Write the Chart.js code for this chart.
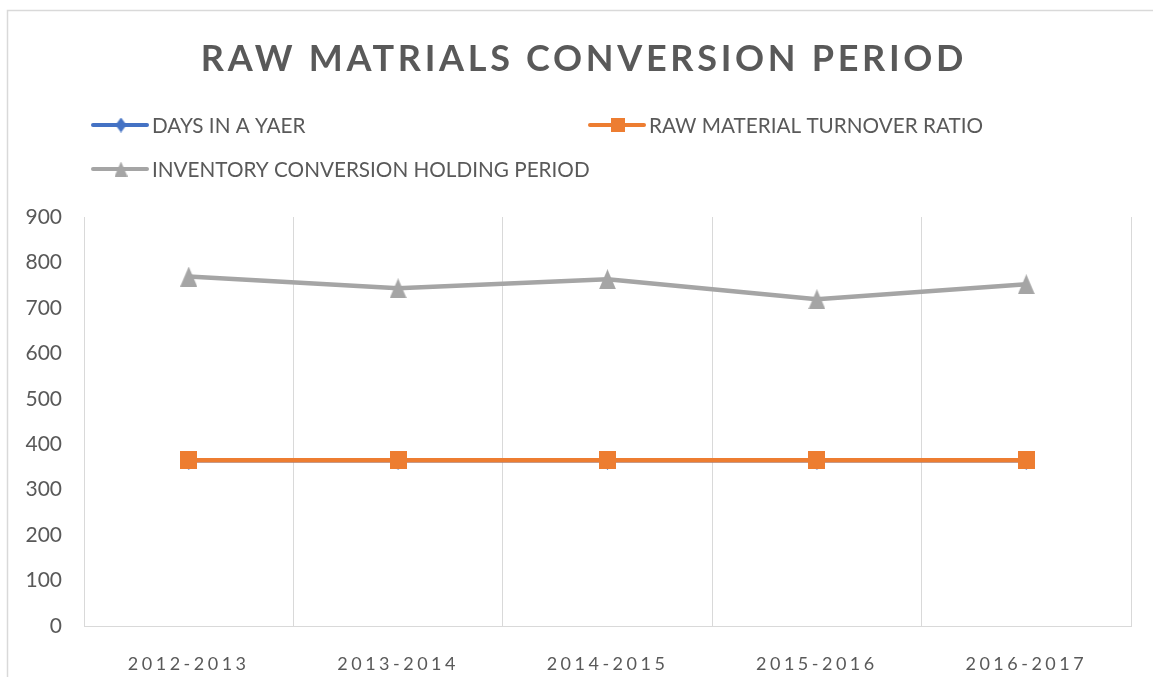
<!DOCTYPE html>
<html>
<head>
<meta charset="utf-8">
<script src="https://cdn.jsdelivr.net/npm/chart.js@4"></script>
<style>
  html, body { margin: 0; padding: 0; background: #fff; overflow: hidden; }
  #wrap { position: relative; width: 1153px; height: 677px; }
</style>
</head>
<body>
<div id="wrap"><canvas id="chartRaw"></canvas></div>
<script>
const periods = ['2012-2013', '2013-2014', '2014-2015', '2015-2016', '2016-2017'];
const daysInYear = [365, 365, 365, 365, 365];
const turnoverRatio = [365, 365, 365, 365, 365];
const holdingPeriod = [769, 743, 763, 719, 752];
const yTicks = [0, 100, 200, 300, 400, 500, 600, 700, 800, 900];

const seriesNames = ['DAYS IN A YAER', 'RAW MATERIAL TURNOVER RATIO', 'INVENTORY CONVERSION HOLDING PERIOD'];
const colors = ['#4472C4', '#ED7D31', '#A5A5A5'];
const textColor = '#595959';
const gridColor = '#D9D9D9';
const fontFamily = 'Lato, "Liberation Sans", sans-serif';

function marker(shape, w, h, color) {
  const c = document.createElement('canvas');
  c.width = w; c.height = h;
  const g = c.getContext('2d');
  g.fillStyle = color;
  g.beginPath();
  if (shape === 'rect') {
    g.rect(0, 0, w, h);
  } else if (shape === 'tri') {
    g.moveTo(w / 2, 0); g.lineTo(w, h); g.lineTo(0, h);
  } else {
    g.moveTo(w / 2, 0); g.lineTo(w, h / 2); g.lineTo(w / 2, h); g.lineTo(0, h / 2);
  }
  g.closePath();
  g.fill();
  return c;
}

const plotMarkers = [
  marker('diamond', 17, 19, colors[0]),
  marker('rect', 17, 18, colors[1]),
  marker('tri', 17, 20, colors[2])
];
const legendMarkers = [
  marker('diamond', 11, 15, colors[0]),
  marker('rect', 14, 14, colors[1]),
  marker('tri', 13, 15, colors[2])
];

// title, legend and outer frame are drawn by hand to get the Excel layout
const excelDecor = {
  id: 'excelDecor',
  beforeDraw(chart) {
    const ctx = chart.ctx;
    ctx.save();
    ctx.fillStyle = '#fff';
    ctx.fillRect(0, 0, chart.width, chart.height);
    ctx.strokeStyle = gridColor;
    ctx.lineWidth = 1.5;
    ctx.strokeRect(7.5, 10.5, 3000, 3000);
    ctx.restore();
  },
  afterDraw(chart) {
    const ctx = chart.ctx;
    ctx.save();
    ctx.fillStyle = textColor;
    ctx.font = 'bold 36px ' + fontFamily;
    ctx.letterSpacing = '3.7px';
    ctx.textAlign = 'center';
    ctx.textBaseline = 'middle';
    ctx.fillText('RAW MATRIALS CONVERSION PERIOD', 584, 59);

    ctx.letterSpacing = '0px';
    ctx.font = '20.7px ' + fontFamily;
    ctx.textAlign = 'left';
    const spots = [[93, 125], [590, 125], [93, 169]];
    chart.data.datasets.forEach((ds, i) => {
      const [x, y] = spots[i];
      ctx.strokeStyle = ds.borderColor;
      ctx.lineWidth = 4;
      ctx.lineCap = 'round';
      ctx.beginPath();
      ctx.moveTo(x, y);
      ctx.lineTo(x + 54, y);
      ctx.stroke();
      const m = legendMarkers[i];
      ctx.drawImage(m, x + 28 - m.width / 2, y - m.height / 2);
      ctx.fillStyle = textColor;
      ctx.fillText(ds.label, x + 59, y + 1);
    });
    ctx.restore();
  }
};

function spacedLabels(scale, spacing) {
  if (scale._spaced) return;
  scale._spaced = true;
  const base = scale.drawLabels;
  scale.drawLabels = function (area) {
    this.ctx.save();
    this.ctx.letterSpacing = spacing;
    base.call(this, area);
    this.ctx.restore();
  };
}

const datasets = [daysInYear, turnoverRatio, holdingPeriod].map((vals, i) => ({
  label: seriesNames[i],
  data: vals,
  borderColor: colors[i],
  backgroundColor: colors[i],
  borderWidth: 4.5,
  borderJoinStyle: 'round',
  pointStyle: plotMarkers[i],
  pointRadius: 9,
  order: [2, 1, 0][i],
  tension: 0
}));

new Chart(document.getElementById('chartRaw').getContext('2d'), {
  type: 'line',
  data: { labels: periods, datasets: datasets },
  options: {
    responsive: true,
    maintainAspectRatio: false,
    animation: false,
    layout: { padding: { top: 217, right: 22, left: 0, bottom: 0 } },
    plugins: {
      legend: { display: false },
      title: { display: false },
      tooltip: { enabled: false }
    },
    scales: {
      x: {
        offset: true,
        grid: { display: true, offset: true, color: gridColor, lineWidth: 1, drawTicks: false },
        border: { display: true, color: gridColor, width: 1 },
        ticks: { color: textColor, font: { family: fontFamily, size: 18 }, padding: 27, maxRotation: 0 },
        afterFit(scale) { scale.height = 51; spacedLabels(scale, '3.5px'); }
      },
      y: {
        min: 0,
        max: 900,
        afterBuildTicks(scale) { scale.ticks = yTicks.map(v => ({ value: v })); },
        grid: { display: false, drawTicks: false },
        border: { display: true, color: gridColor, width: 1 },
        ticks: { color: textColor, font: { family: fontFamily, size: 21 }, padding: 22 },
        afterFit(scale) { scale.width = 84; }
      }
    }
  },
  plugins: [excelDecor]
});
</script>
</body>
</html>
